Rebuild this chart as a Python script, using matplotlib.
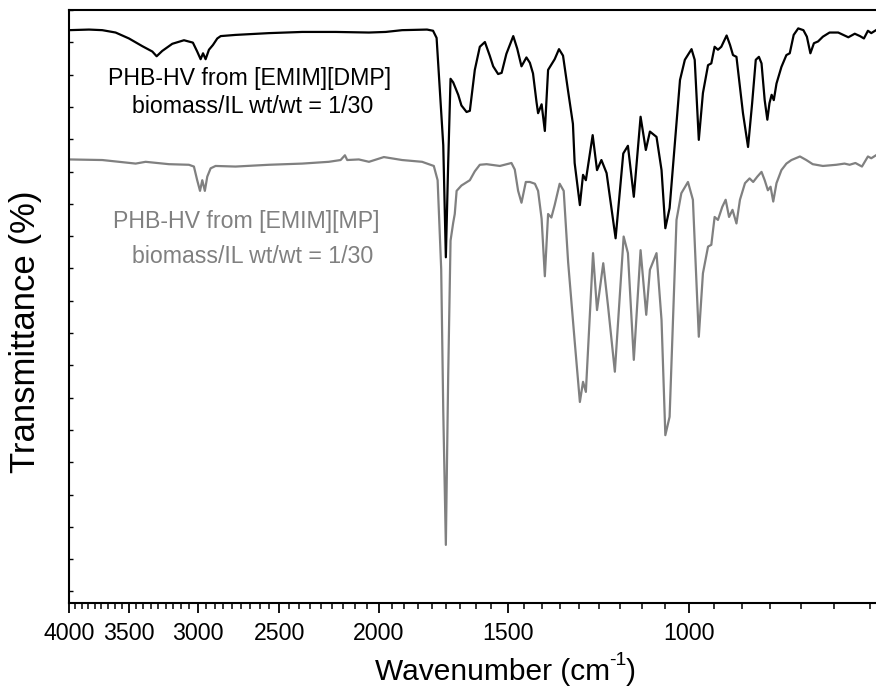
import numpy as np
import matplotlib
matplotlib.use("Agg")
import matplotlib.pyplot as plt
from matplotlib.ticker import FixedLocator, NullFormatter, StrMethodFormatter

plt.rcParams['font.family'] = ['Liberation Sans', 'DejaVu Sans']

# FTIR spectra (wavenumber in cm-1, transmittance in arbitrary %)
black_wn = [4000, 3825, 3713, 3604, 3498, 3395, 3320, 3288, 3247, 3175, 3093, 3032,
            3003, 2980, 2964, 2947, 2925, 2899, 2871, 2849, 2756, 2558, 2374, 2203,
            2045, 1970, 1899, 1796, 1772, 1758, 1745, 1732, 1722, 1713, 1704, 1694,
            1675, 1663, 1644, 1632, 1614, 1596, 1578, 1561, 1549, 1532, 1520, 1504,
            1481, 1468, 1454, 1438, 1427, 1417, 1406, 1401, 1390, 1380, 1370, 1360,
            1350, 1337, 1325, 1310, 1296, 1291, 1276, 1267, 1259, 1240, 1228, 1216,
            1202, 1178, 1158, 1146, 1131, 1114, 1101, 1091, 1075, 1063, 1054, 1044,
            1020, 1009, 994, 987, 978, 969, 958, 951, 944, 937, 930, 919, 912, 906,
            899, 886, 876, 868, 861, 855, 850, 844, 839, 835, 831, 827, 822, 813,
            804, 798, 791, 783, 774, 768, 762, 756, 749, 741, 730, 716, 708, 700,
            690, 682, 676, 670, 665, 658]
black_t = [96.6, 96.7, 96.6, 96.2, 95.2, 93.9, 93.0, 92.2, 93.1, 94.3, 94.9, 94.5,
           93.0, 91.7, 92.7, 91.7, 93.3, 94.1, 95.2, 95.6, 95.8, 96.1, 96.3, 96.3,
           96.2, 96.3, 96.6, 96.7, 96.5, 95.3, 86.3, 77.2, 58.3, 74.2, 88.4, 87.8,
           85.7, 83.9, 82.8, 83.0, 89.9, 93.8, 94.6, 92.3, 90.5, 89.2, 89.4, 92.6,
           95.6, 93.5, 90.5, 92.0, 91.1, 89.3, 84.5, 82.6, 84.1, 79.6, 89.9, 90.8,
           91.7, 93.4, 92.3, 86.3, 80.8, 74.2, 67.1, 72.2, 71.3, 78.9, 73.0, 74.7,
           72.5, 61.5, 75.8, 77.1, 68.5, 82.0, 76.4, 79.5, 78.6, 73.0, 63.2, 66.6,
           88.2, 91.6, 93.4, 91.6, 78.1, 86.0, 90.7, 91.0, 93.8, 93.3, 93.8, 95.7,
           94.1, 92.4, 92.1, 82.6, 76.9, 84.3, 91.6, 92.1, 91.0, 84.8, 81.5, 84.3,
           85.7, 84.8, 87.6, 90.4, 92.4, 92.7, 95.8, 96.9, 96.6, 95.5, 92.7, 94.4,
           94.7, 95.5, 96.2, 96.2, 95.8, 95.4, 96.0, 95.6, 95.2, 96.5, 96.1, 96.6]

gray_wn = [4000, 3713, 3446, 3370, 3199, 3059, 3025, 3003, 2984, 2969, 2952, 2936,
           2914, 2882, 2756, 2558, 2374, 2237, 2179, 2158, 2147, 2092, 2045, 1978,
           1899, 1816, 1769, 1754, 1740, 1732, 1722, 1713, 1704, 1694, 1688, 1681,
           1663, 1632, 1614, 1596, 1572, 1526, 1487, 1476, 1465, 1454, 1440, 1427,
           1411, 1401, 1390, 1380, 1370, 1360, 1350, 1335, 1323, 1310, 1291, 1276,
           1267, 1259, 1239, 1228, 1211, 1198, 1180, 1157, 1146, 1131, 1114, 1100,
           1091, 1075, 1063, 1054, 1044, 1028, 1017, 1002, 991, 978, 969, 958, 951,
           944, 937, 928, 921, 914, 907, 899, 892, 882, 873, 866, 858, 850, 844,
           838, 833, 828, 822, 813, 804, 795, 780, 769, 758, 741, 719, 706, 698,
           689, 679, 670, 665, 658]
gray_t = [74.8, 74.7, 74.1, 74.4, 74.0, 73.9, 73.6, 71.3, 69.5, 71.3, 69.5, 71.9,
          73.3, 73.7, 73.6, 73.9, 74.1, 74.4, 74.7, 75.5, 74.7, 74.8, 74.4, 75.2,
          74.7, 74.4, 73.7, 71.3, 56.3, 32.4, 9.8, 38.3, 61.1, 64.1, 65.6, 69.5,
          70.4, 71.3, 72.8, 73.9, 74.0, 73.7, 74.2, 73.1, 69.5, 67.5, 71.0, 71.0,
          70.7, 69.5, 64.8, 55.1, 65.6, 65.0, 67.1, 70.7, 69.5, 57.5, 44.2, 33.9,
          37.3, 35.6, 59.0, 49.4, 57.3, 50.0, 39.0, 61.8, 59.0, 41.0, 59.5, 48.6,
          56.2, 59.0, 47.7, 28.3, 31.4, 64.6, 69.1, 71.0, 68.0, 44.9, 55.6, 60.1, 60.4,
          65.1, 64.6, 66.8, 68.0, 65.1, 66.3, 64.0, 68.0, 70.8, 71.6, 71.0, 71.9, 72.7, 71.3,
          69.6, 70.2, 67.7, 70.8, 73.0, 74.1, 74.7, 75.3, 74.7, 74.0, 73.7, 73.9, 74.1, 73.9,
          74.2, 73.6, 75.3, 75.0, 75.5]

major_wn = [4000, 3500, 3000, 2500, 2000, 1500, 1000]
labels = [("PHB-HV from [EMIM][DMP]", "biomass/IL wt/wt = 1/30", "black"),
          ("PHB-HV from [EMIM][MP]", "biomass/IL wt/wt = 1/30", "#808080")]

fig = plt.figure(figsize=(8.76, 6.86), dpi=100)
ax = fig.add_axes([69 / 876, 1 - 603 / 686, 1 - 69 / 876, 593 / 686])

ax.plot(black_wn, black_t, color='black', lw=1.6, solid_joinstyle='round')
ax.plot(gray_wn, gray_t, color='#808080', lw=1.6, solid_joinstyle='round')

ax.set_xscale('log')
ax.set_xlim(4000, 658)
ax.set_ylim(0, 100)

# minor ticks split every 500 cm-1 step into nine parts
minor = []
for m in major_wn:
    for k in range(1, 9):
        minor.append(m - k * 500 / 9)
ax.xaxis.set_major_locator(FixedLocator(major_wn))
ax.xaxis.set_minor_locator(FixedLocator(minor))
ax.xaxis.set_major_formatter(StrMethodFormatter('{x:.0f}'))
ax.xaxis.set_minor_formatter(NullFormatter())

ax.set_yticks(np.arange(100, 0, -5.447))
ax.tick_params(axis='y', which='both', direction='in', length=3, width=1,
               labelleft=False)
ax.tick_params(axis='x', which='major', direction='out', length=7, width=1.3,
               labelsize=16.7, pad=7)
ax.tick_params(axis='x', which='minor', direction='out', length=4, width=1.1)
for side in ['left', 'bottom', 'top']:
    ax.spines[side].set_linewidth(1.5)
ax.spines['right'].set_visible(False)

# curve labels
(l1, l2, c1), (g1, g2, c2) = labels
ax.text(0.2243, 0.885, l1, transform=ax.transAxes, ha='center', va='center',
        fontsize=16.7, color=c1)
ax.text(0.228, 0.838, l2, transform=ax.transAxes, ha='center', va='center',
        fontsize=16.7, color=c1)
ax.text(0.220, 0.644, g1, transform=ax.transAxes, ha='center', va='center',
        fontsize=16.7, color=c2)
ax.text(0.228, 0.585, g2, transform=ax.transAxes, ha='center', va='center',
        fontsize=16.7, color=c2)

fig.text(26 / 876, 1 - 332 / 686, 'Transmittance (%)', rotation=90,
         ha='center', va='center', fontsize=25)
# axis title with a plain hyphen in the superscript, as in the original
fig.text(375 / 876, 6 / 686, 'Wavenumber (cm', ha='left', va='baseline', fontsize=21.5)
fig.text(609 / 876, 21 / 686, '-1', ha='left', va='baseline', fontsize=14)
fig.text(626 / 876, 6 / 686, ')', ha='left', va='baseline', fontsize=21.5)

fig.savefig('out.png', dpi=100)
